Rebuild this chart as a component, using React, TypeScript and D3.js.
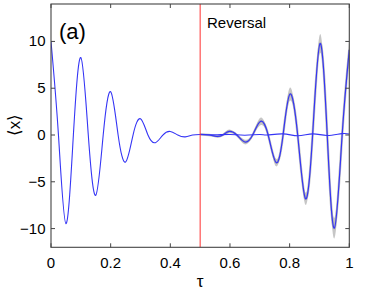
import React from 'react';
import * as d3 from 'd3';

// Damped oscillation before reversal (τ, <x>)
const decayTau = [0, 0.025, 0.05, 0.075, 0.1, 0.125, 0.15, 0.175, 0.2, 0.225, 0.25, 0.275, 0.3, 0.325, 0.35, 0.375, 0.4, 0.425, 0.45, 0.475, 0.5];
const decayVal = [10, 0, -9.47, 0, 8.28, 0, -6.44, 0, 4.62, 0, -2.89, 0, 1.74, 0, -0.82, 0, 0.38, 0, -0.2, 0, 0.06];

// Reversed (re-growing) trajectory after reversal, with ensemble spread
const revTau = [0.5, 0.53, 0.555, 0.576, 0.597, 0.623, 0.65, 0.676, 0.702, 0.728, 0.755, 0.778, 0.801, 0.827, 0.853, 0.877, 0.902, 0.926, 0.95, 0.976, 1.0];
const revVal = [0.06, 0, -0.15, 0, 0.38, 0, -0.75, 0, 1.45, 0, -2.95, 0, 4.37, 0, -6.8, 0, 9.78, 0, -9.95, 0, 9.1];
const revSpread = [0.05, 0.05, 0.1, 0.1, 0.2, 0.1, 0.25, 0.15, 0.4, 0.2, 0.4, 0.25, 0.7, 0.3, 0.65, 0.4, 1.0, 0.5, 1.1, 0.6, 1.1];

// Flat branch after reversal
const flatTau = [0.5, 0.55, 0.6, 0.65, 0.7, 0.725, 0.778, 0.828, 0.878, 0.925, 0.975, 1.0];
const flatVal = [0.06, 0.02, 0.06, -0.02, 0.06, 0.0, 0.12, -0.08, 0.12, -0.05, 0.15, 0.1];

const xTicks = [0, 0.2, 0.4, 0.6, 0.8, 1];
const xTickLabels = ['0', '0.2', '0.4', '0.6', '0.8', '1'];
const yTicks = [-10, -5, 0, 5, 10];
const yTickLabels = ['\u221210', '\u22125', '0', '5', '10'];
const reversalTau = 0.5;

const FONT = '"Liberation Sans", Arial, Helvetica, sans-serif';

export default function App() {
  const W = 374, H = 303;
  const L = 51, R = 349.3, T = 4, B = 247.3;
  const x = d3.scaleLinear().domain([0, 1]).range([L, R]);
  const y = d3.scaleLinear().domain([-12, 14]).range([B, T]);

  const line = d3.line<[number, number]>()
    .x(d => x(d[0]))
    .y(d => y(d[1]))
    .curve(d3.curveNatural);

  const area = d3.area<number>()
    .x(i => x(revTau[i]))
    .y0(i => y(revVal[i] - revSpread[i]))
    .y1(i => y(revVal[i] + revSpread[i]))
    .curve(d3.curveNatural);

  const decayPts = decayTau.map((t, i) => [t, decayVal[i]] as [number, number]);
  const revPts = revTau.map((t, i) => [t, revVal[i]] as [number, number]);
  const flatPts = flatTau.map((t, i) => [t, flatVal[i]] as [number, number]);
  const idx = revTau.map((_, i) => i);

  const blue = '#3535f5';
  const axisColor = '#444';
  const tl = 4;

  return (
    <svg width={W} height={H} style={{ position: 'absolute', left: 0, top: 0, display: 'block', background: '#fff' }}>
      <defs>
        <clipPath id="plot">
          <rect x={L} y={T} width={R - L} height={B - T} />
        </clipPath>
      </defs>
      <g clipPath="url(#plot)">
        <path d={area(idx) || ''} fill="#b8b8b8" opacity={0.8} />
        <path d={line(revPts) || ''} fill="none" stroke="#aaa" strokeWidth={2.4} opacity={0.7} />
        <path d={line(decayPts) || ''} fill="none" stroke={blue} strokeWidth={1.1} />
        <path d={line(flatPts) || ''} fill="none" stroke={blue} strokeWidth={1.1} />
        <path d={line(revPts) || ''} fill="none" stroke={blue} strokeWidth={1.2} />
        <line x1={x(reversalTau)} x2={x(reversalTau)} y1={T} y2={B} stroke="#ff3030" strokeWidth={1} />
      </g>
      <rect x={L} y={T} width={R - L} height={B - T} fill="none" stroke={axisColor} strokeWidth={1.1} />
      {xTicks.map((t, i) => (
        <g key={'x' + i}>
          <line x1={x(t)} x2={x(t)} y1={B} y2={B - tl} stroke={axisColor} strokeWidth={1} />
          <line x1={x(t)} x2={x(t)} y1={T} y2={T + tl} stroke={axisColor} strokeWidth={1} />
          <text x={x(t)} y={267.5} textAnchor="middle" fontFamily={FONT} fontSize={15} fill="#000">{xTickLabels[i]}</text>
        </g>
      ))}
      {yTicks.map((t, i) => (
        <g key={'y' + i}>
          <line x1={L} x2={L + tl} y1={y(t)} y2={y(t)} stroke={axisColor} strokeWidth={1} />
          <line x1={R} x2={R - tl} y1={y(t)} y2={y(t)} stroke={axisColor} strokeWidth={1} />
          <text x={45.5} y={y(t) + 5} textAnchor="end" fontFamily={FONT} fontSize={15} fill="#000">{yTickLabels[i]}</text>
        </g>
      ))}
      <text x={200} y={287} textAnchor="middle" fontFamily={FONT} fontSize={17} fill="#000">τ</text>
      <text transform={`translate(20,125) rotate(-90)`} textAnchor="middle" fontFamily={FONT} fontSize={17} fill="#000">⟨x⟩</text>
      <text x={59} y={39} fontFamily={FONT} fontSize={22} fill="#000">(a)</text>
      <text x={207} y={28} fontFamily={FONT} fontSize={15} fill="#000">Reversal</text>
    </svg>
  );
}
